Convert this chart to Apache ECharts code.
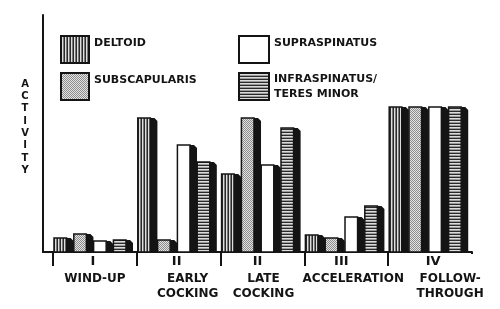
<!DOCTYPE html>
<html>
<head>
<meta charset="utf-8">
<script src="https://cdn.jsdelivr.net/npm/echarts@6/dist/echarts.min.js"></script>
<style>
html,body{margin:0;padding:0;background:#fff;}
#chart{width:500px;height:309px;}
</style>
</head>
<body>
<div id="chart"></div>
<script>
// ---- data ----
const phaseNumerals = ['I', 'II', 'II', 'III', 'IV'];
const phaseNames = ['WIND-UP', 'EARLY\nCOCKING', 'LATE\nCOCKING', 'ACCELERATION', 'FOLLOW-\nTHROUGH'];
const muscleNames = ['DELTOID', 'SUBSCAPULARIS', 'SUPRASPINATUS', 'INFRASPINATUS/\nTERES MINOR'];
const deltoid = [14, 134, 78, 17, 145];
const subscapularis = [18, 12, 134, 14, 145];
const supraspinatus = [11, 107, 87, 35, 145];
const infraspinatus = [12, 90, 124, 46, 145];
const yTitle = 'ACTIVITY';

// ---- patterns ----
function makePattern(w, h, draw) {
  const c = document.createElement('canvas');
  c.width = w; c.height = h;
  const ctx = c.getContext('2d');
  draw(ctx);
  return { image: c, repeat: 'repeat' };
}
const patVertical = makePattern(3, 4, ctx => {
  ctx.fillStyle = '#2a2a2a'; ctx.fillRect(0, 0, 1, 4);
  ctx.fillStyle = '#dedede'; ctx.fillRect(1, 0, 1, 4);
  ctx.fillStyle = '#7a7a7a'; ctx.fillRect(2, 0, 1, 4);
});
const patStipple = makePattern(2, 2, ctx => {
  ctx.fillStyle = '#e4e4e4'; ctx.fillRect(0, 0, 2, 2);
  ctx.fillStyle = '#8c8c8c'; ctx.fillRect(0, 0, 1, 1); ctx.fillRect(1, 1, 1, 1);
});
const patWhite = '#ffffff';
const patHorizontal = makePattern(4, 3, ctx => {
  ctx.fillStyle = '#2a2a2a'; ctx.fillRect(0, 0, 4, 1);
  ctx.fillStyle = '#dcdcdc'; ctx.fillRect(0, 1, 4, 1);
  ctx.fillStyle = '#9a9a9a'; ctx.fillRect(0, 2, 4, 1);
});
const fills = [patVertical, patStipple, patWhite, patHorizontal];
const seriesValues = [deltoid, subscapularis, supraspinatus, infraspinatus];

const INK = '#141414';
const FONT = '"DejaVu Sans", "Liberation Sans", sans-serif';

// bar unit layout as fractions of the category band
function makeRender(k) {
  return function (params, api) {
    const ci = api.value(0);
    const v = api.value(1);
    const base = api.coord([ci, 0]);
    const top = api.coord([ci, v]);
    const band = api.size([1, 0])[0];
    const x0 = base[0] - band / 2;
    const unit = band * 0.2363;
    const fx = x0 + band * 0.012 + k * unit;
    const fw = band * 0.15;
    const sw = band * 0.084;
    const ty = top[1], by = base[1];
    const bev = Math.min(3, (by - ty) / 3);
    return {
      type: 'group',
      children: [
        {
          type: 'polygon',
          shape: { points: [[fx + fw, ty], [fx + fw + sw - 3, ty], [fx + fw + sw, ty + bev], [fx + fw + sw, by], [fx + fw, by]] },
          style: { fill: INK }
        },
        {
          type: 'rect',
          shape: { x: fx, y: ty, width: fw, height: by - ty },
          style: { fill: fills[k], stroke: INK, lineWidth: 1.5 }
        }
      ]
    };
  };
}

const series = seriesValues.map((vals, k) => ({
  type: 'custom',
  name: muscleNames[k],
  renderItem: makeRender(k),
  encode: { x: 0, y: 1 },
  itemStyle: { color: fills[k] },
  data: vals.map((v, i) => [i, v])
}));

// label line shifts (px) relative to category centre
const numShift = [-2, -2, -5, -5, 3];
const nameShift = [0, 9, 1, 7, 20];
function pad(d) { return d >= 0 ? [0, 0, 0, 2 * d] : [0, -2 * d, 0, 0]; }
const rich = {};
for (let i = 0; i < phaseNames.length; i++) {
  rich['n' + i] = { fontFamily: FONT, fontWeight: 'bold', fontSize: 13, lineHeight: 18, color: INK, padding: pad(numShift[i]) };
  rich['t' + i] = { fontFamily: FONT, fontWeight: 'bold', fontSize: 12, lineHeight: 15, color: INK, padding: pad(nameShift[i]) };
}

const legendRich = {
  s: { fontFamily: FONT, fontWeight: 'bold', fontSize: 11, color: INK, lineHeight: 13 },
  m: { fontFamily: FONT, fontWeight: 'bold', fontSize: 11, color: INK, lineHeight: 15 }
};
const legendText = { fontFamily: FONT, fontWeight: 'bold', fontSize: 11, color: INK, rich: legendRich };
function legendFormatter(name) {
  if (name.indexOf('\n') >= 0) return name.split('\n').map(s => '{m|' + s + '}').join('\n');
  // single-line labels sit near the top of their key box
  return '{s|' + name + '}\n{s| }';
}

const chart = echarts.init(document.getElementById('chart'), null, { renderer: 'canvas' });
chart.setOption({
  backgroundColor: '#ffffff',
  animation: false,
  textStyle: { fontFamily: FONT },
  grid: { left: 53, right: 28, top: 15, bottom: 57 },
  legend: [
    {
      data: [muscleNames[0], muscleNames[1]],
      left: 60, top: 35, orient: 'vertical', padding: 0,
      itemWidth: 28, itemHeight: 27, itemGap: 8,
      icon: 'rect',
      itemStyle: { borderColor: INK, borderWidth: 2 },
      textStyle: legendText, formatter: legendFormatter,
      selectedMode: false
    },
    {
      data: [muscleNames[2], muscleNames[3]],
      left: 238, top: 35, orient: 'vertical', padding: 0,
      itemWidth: 30, itemHeight: 27, itemGap: 8,
      icon: 'rect',
      itemStyle: { borderColor: INK, borderWidth: 2 },
      textStyle: legendText, formatter: legendFormatter,
      selectedMode: false
    }
  ],
  xAxis: {
    type: 'category',
    data: phaseNames,
    boundaryGap: true,
    axisLine: { lineStyle: { color: INK, width: 2 } },
    axisTick: { show: true, length: 14, lineStyle: { color: INK, width: 2 } },
    axisLabel: {
      interval: 0,
      margin: 1,
      formatter: function (value, index) {
        return '{n' + index + '|' + phaseNumerals[index] + '}\n' +
          value.split('\n').map(s => '{t' + index + '|' + s + '}').join('\n');
      },
      rich: rich
    },
    splitLine: { show: false }
  },
  yAxis: {
    type: 'value',
    min: 0, max: 237,
    offset: 10,
    axisLine: { show: true, lineStyle: { color: INK, width: 2 } },
    axisTick: { show: false },
    axisLabel: { show: false },
    splitLine: { show: false },
    // letters stacked; trailing blank line lifts the stack slightly
    name: yTitle.split('').join('\n') + '\n ',
    nameLocation: 'middle',
    nameRotate: 0,
    nameGap: 18,
    nameTextStyle: { fontFamily: FONT, fontWeight: 'bold', fontSize: 10, lineHeight: 12.3, color: INK, align: 'center', verticalAlign: 'middle' }
  },
  graphic: [
    { type: 'line', shape: { x1: 42, y1: 252, x2: 54, y2: 252 }, style: { stroke: INK, lineWidth: 2 }, z: 10 },
    { type: 'rect', shape: { x: 468, y: 254, width: 10, height: 18 }, style: { fill: '#ffffff' }, z: 10 }
  ],
  series: series
});
</script>
</body>
</html>
